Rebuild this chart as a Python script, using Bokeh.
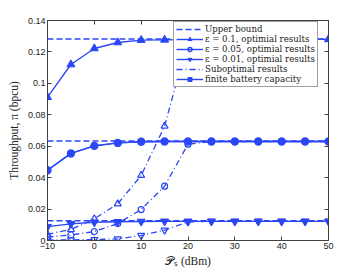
from bokeh.plotting import figure
from bokeh.models import Legend, LegendItem, LinearAxis, FixedTicker, CustomJSTickFormatter, Range1d
from bokeh.embed import file_html
from bokeh.resources import INLINE

ps_dbm = [-10, -5, 0, 5, 10, 15, 20, 25, 30, 35, 40, 45, 50]

upper_bound_01 = 0.1282
upper_bound_005 = 0.0633
upper_bound_001 = 0.0126

opt_01 = [0.0912, 0.1120, 0.1222, 0.1260, 0.1275, 0.1277, 0.1278, 0.1279, 0.1280, 0.1280, 0.1280, 0.1280, 0.1280]
opt_005 = [0.0447, 0.0554, 0.0602, 0.0621, 0.0628, 0.0630, 0.0630, 0.0630, 0.0630, 0.0630, 0.0630, 0.0630, 0.0630]
opt_001 = [0.0088, 0.0106, 0.0116, 0.0119, 0.0121, 0.0122, 0.0122, 0.0122, 0.0122, 0.0122, 0.0122, 0.0122, 0.0122]

sub_01 = [0.0040, 0.0070, 0.0138, 0.0233, 0.0414, 0.0728, 0.1275, 0.1279, 0.1280, 0.1280, 0.1280, 0.1280, 0.1280]
sub_005 = [0.0022, 0.0035, 0.0057, 0.0108, 0.0197, 0.0346, 0.0613, 0.0630, 0.0630, 0.0630, 0.0630, 0.0630, 0.0630]
sub_001 = [0.0003, 0.0004, 0.0006, 0.0010, 0.0032, 0.0066, 0.0118, 0.0122, 0.0122, 0.0122, 0.0122, 0.0122, 0.0122]

finite_battery = [0.0447, 0.0554, 0.0602, 0.0621, 0.0628, 0.0630, 0.0630, 0.0630, 0.0630, 0.0630, 0.0630, 0.0630, 0.0630]

x_ticks = [-10, 0, 10, 20, 30, 40, 50]
y_ticks = [0, 0.02, 0.04, 0.06, 0.08, 0.1, 0.12, 0.14]

BLUE = "#2a46f5"
AX = "#404040"

p = figure(frame_width=281, frame_height=220, output_backend="svg", toolbar_location=None,
           x_range=Range1d(-10, 50), y_range=Range1d(0, 0.14),
           min_border_left=47, min_border_right=30, min_border_top=20, min_border_bottom=30)
p.background_fill_color = "white"
p.border_fill_color = "white"
p.outline_line_color = AX
p.outline_line_width = 1
p.xgrid.visible = False
p.ygrid.visible = False

def style_axis(ax, show_labels=True):
    ax.axis_line_color = AX
    ax.major_tick_line_color = AX
    ax.major_tick_in = 4
    ax.major_tick_out = 0
    ax.minor_tick_line_color = None
    ax.major_label_text_font = "Liberation Sans"
    ax.major_label_text_color = "#222222"
    if show_labels:
        ax.major_label_text_font_size = "9px"
        ax.major_label_standoff = 2
    else:
        ax.major_label_text_font_size = "1px"
        ax.major_label_text_color = None
        ax.major_label_standoff = 0

p.xaxis.ticker = FixedTicker(ticks=x_ticks)
p.yaxis.ticker = FixedTicker(ticks=y_ticks)
p.yaxis.formatter = CustomJSTickFormatter(code="""
if (Math.abs(tick) < 1e-9) { return "0"; }
var s = tick.toFixed(2);
if (s.endsWith("0")) { s = s.slice(0, -1); }
return s;
""")
style_axis(p.xaxis[0])
style_axis(p.yaxis[0])
p.xaxis.axis_label = "𝒫ₛ (dBm)"
p.yaxis.axis_label = "Throughput, π (bpcu)"
for ax in (p.xaxis[0], p.yaxis[0]):
    ax.axis_label_text_font = "Liberation Serif"
    ax.axis_label_text_font_size = "11.5px"
    ax.axis_label_text_font_style = "normal"
    ax.axis_label_text_color = "#222222"
p.xaxis.axis_label_standoff = 3
p.yaxis.axis_label_standoff = 5

top = LinearAxis(ticker=FixedTicker(ticks=x_ticks))
style_axis(top, False)
p.add_layout(top, "above")
right = LinearAxis(ticker=FixedTicker(ticks=y_ticks))
style_axis(right, False)
p.add_layout(right, "right")

ub_x = [ps_dbm[0], ps_dbm[-1]]
ub = []
for v in (upper_bound_01, upper_bound_005, upper_bound_001):
    ub.append(p.line(ub_x, [v, v], line_color=BLUE, line_width=1.4, line_dash="6 3"))

l1 = p.line(ps_dbm, opt_01, line_color=BLUE, line_width=1.4)
m1 = p.scatter(ps_dbm, opt_01, marker="triangle", size=8, line_color=BLUE, fill_color=BLUE, line_width=1)
l2 = p.line(ps_dbm, opt_005, line_color=BLUE, line_width=1.4)
m2 = p.scatter(ps_dbm, opt_005, marker="circle", size=7, line_color=BLUE, fill_color=None, line_width=1.4)
l3 = p.line(ps_dbm, opt_001, line_color=BLUE, line_width=1.4)
m3 = p.scatter(ps_dbm, opt_001, marker="inverted_triangle", size=8, line_color=BLUE, fill_color=BLUE, line_width=1)

DD = "6 3 1 3"
s1 = p.line(ps_dbm, sub_01, line_color=BLUE, line_width=1.3, line_dash=DD)
p.scatter(ps_dbm, sub_01, marker="triangle", size=7, line_color=BLUE, fill_color=None, line_width=1.2)
s2 = p.line(ps_dbm, sub_005, line_color=BLUE, line_width=1.3, line_dash=DD)
p.scatter(ps_dbm, sub_005, marker="circle", size=6, line_color=BLUE, fill_color=None, line_width=1.2)
s3 = p.line(ps_dbm, sub_001, line_color=BLUE, line_width=1.3, line_dash=DD)
p.scatter(ps_dbm, sub_001, marker="inverted_triangle", size=7, line_color=BLUE, fill_color=None, line_width=1.2)

fl = p.line(ps_dbm, finite_battery, line_color=BLUE, line_width=1.4)
fm = p.scatter(ps_dbm, finite_battery, marker="square", size=5, line_color=BLUE, fill_color=BLUE)

legend = Legend(items=[
    LegendItem(label="Upper bound", renderers=[ub[0]]),
    LegendItem(label="ε = 0.1, optimial results", renderers=[l1, m1]),
    LegendItem(label="ε = 0.05, optimial results", renderers=[l2, m2]),
    LegendItem(label="ε = 0.01, optimial results", renderers=[l3, m3]),
    LegendItem(label="Suboptimal results", renderers=[s1]),
    LegendItem(label="finite battery capacity", renderers=[fl, fm]),
], location=(126, 153))
legend.label_text_font = "DejaVu Serif"
legend.label_text_font_size = "8.6px"
legend.label_text_color = "#222222"
legend.label_height = 10
legend.glyph_height = 10
legend.glyph_width = 27
legend.label_standoff = 2
legend.spacing = 0
legend.padding = 2
legend.margin = 0
legend.border_line_color = AX
legend.border_line_width = 1
legend.background_fill_color = "white"
legend.background_fill_alpha = 1
p.add_layout(legend)

open("out.html", "w").write(file_html(p, INLINE))
